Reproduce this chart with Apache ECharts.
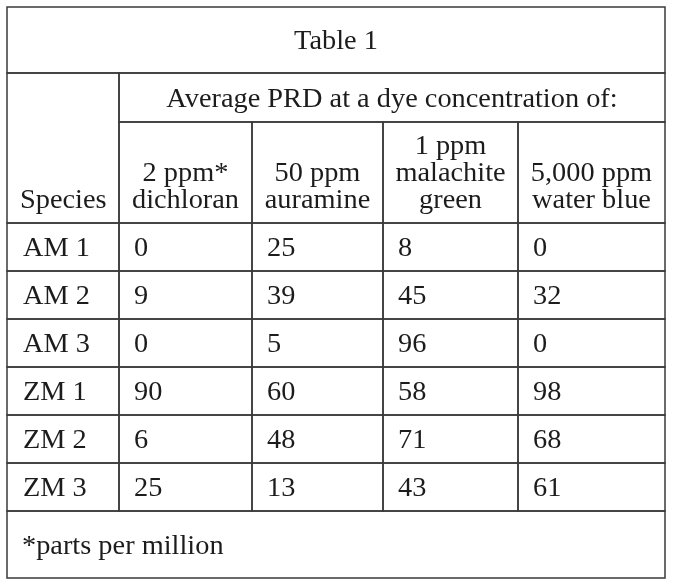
<!DOCTYPE html>
<html>
<head>
<meta charset="utf-8">
<script src="https://cdn.jsdelivr.net/npm/echarts@6/dist/echarts.min.js"></script>
<style>
html, body { margin: 0; padding: 0; background: #fff; }
#main { width: 673px; height: 587px; }
</style>
</head>
<body>
<div id="main"></div>
<script>
// 表格文字与数据
let tableTitle = 'Table 1';
let groupTitle = 'Average PRD at a dye concentration of:';
let speciesTitle = 'Species';
let dyeHeaders = ['2 ppm*\ndichloran', '50 ppm\nauramine', '1 ppm\nmalachite\ngreen', '5,000 ppm\nwater blue'];
let species = ['AM 1', 'AM 2', 'AM 3', 'ZM 1', 'ZM 2', 'ZM 3'];
let dichloran = [0, 9, 0, 90, 6, 25];
let auramine = [25, 39, 5, 60, 48, 13];
let malachiteGreen = [8, 45, 96, 58, 71, 43];
let waterBlue = [0, 32, 0, 98, 68, 61];
let footnote = '*parts per million';

// 布局 (坐标轴单位 = 表格内的像素)
let colEdges = [0, 112, 245, 376, 511, 658];
let titleH = 66, groupH = 49, headH = 101, rowH = 48, footH = 67;
let tableW = colEdges[colEdges.length - 1];
let tableH = titleH + groupH + headH + rowH * species.length + footH;

let chart = echarts.init(document.getElementById('main'));

// 生成单元格
let cells = [];
function addCell(x0, y0, x1, y1, text, align, valign, pad) {
    cells.push({ value: [x0, y0, x1, y1], text: text, align: align, valign: valign, pad: pad || 15 });
}
addCell(0, 0, tableW, titleH, tableTitle, 'center', 'middle');
let y = titleH;
addCell(0, y, colEdges[1], y + groupH + headH, speciesTitle, 'left', 'bottom', 13);
addCell(colEdges[1], y, tableW, y + groupH, groupTitle, 'center', 'middle');
y += groupH;
for (let j = 0; j < dyeHeaders.length; j++) {
    addCell(colEdges[j + 1], y, colEdges[j + 2], y + headH, dyeHeaders[j], 'center', 'bottom');
}
y += headH;
let columns = [dichloran, auramine, malachiteGreen, waterBlue];
for (let i = 0; i < species.length; i++) {
    addCell(colEdges[0], y, colEdges[1], y + rowH, species[i], 'left', 'middle', 16);
    for (let j = 0; j < columns.length; j++) {
        addCell(colEdges[j + 1], y, colEdges[j + 2], y + rowH, String(columns[j][i]), 'left', 'middle');
    }
    y += rowH;
}
addCell(0, y, tableW, y + footH, footnote, 'left', 'middle');

function renderCell(params, api) {
    let c = cells[params.dataIndex];
    let p0 = api.coord([api.value(0), api.value(1)]);
    let p1 = api.coord([api.value(2), api.value(3)]);
    let tx = c.align === 'center' ? (p0[0] + p1[0]) / 2 : p0[0] + c.pad;
    let ty = c.valign === 'bottom' ? p1[1] - 9 : (p0[1] + p1[1]) / 2 + 2;
    return {
        type: 'group',
        children: [
            {
                type: 'rect',
                shape: { x: p0[0], y: p0[1], width: p1[0] - p0[0], height: p1[1] - p0[1] },
                style: { fill: null, stroke: '#3a3a3a', lineWidth: 1.5 }
            },
            {
                type: 'text',
                x: tx,
                y: ty,
                scaleX: 1.05,
                style: {
                    text: c.text,
                    fill: '#1c1c1c',
                    font: '27px "Liberation Serif"',
                    lineHeight: 27,
                    align: c.align,
                    verticalAlign: c.valign
                }
            }
        ]
    };
}

let option = {
    backgroundColor: '#fff',
    animation: false,
    grid: { left: 7, top: 7, width: tableW, height: tableH },
    xAxis: { type: 'value', min: 0, max: tableW, show: false },
    yAxis: { type: 'value', min: 0, max: tableH, inverse: true, show: false },
    series: [{
        type: 'custom',
        renderItem: renderCell,
        encode: { x: [0, 2], y: [1, 3] },
        data: cells.map(c => c.value)
    }]
};
chart.setOption(option);
window.addEventListener('resize', function () { chart.resize(); });
</script>
</body>
</html>
